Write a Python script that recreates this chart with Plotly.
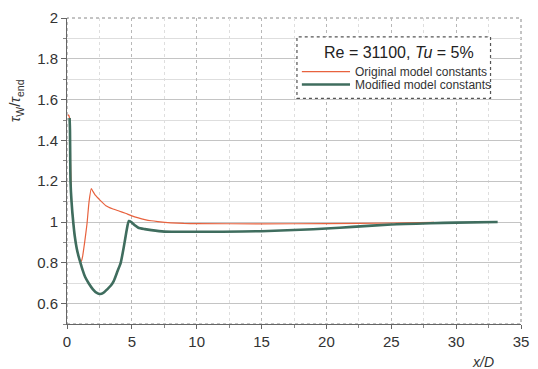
import plotly.graph_objects as go

# Original model constants (red)
orig_x = [0.08, 0.12, 0.2, 0.25, 0.27, 0.35, 0.48, 0.6, 0.75, 0.9, 1.04, 1.12, 1.2, 1.36, 1.54, 1.7, 1.87,
          2.0, 2.2, 2.5, 3.0, 3.5, 4.0, 4.5, 5.0, 5.5, 6.0, 6.5, 7.0, 8.0, 9.0, 10.0, 15.0, 20.0, 25.0, 28.3]
orig_y = [1.52, 1.525, 1.51, 1.45, 1.3, 1.1, 1.0, 0.93, 0.87, 0.83, 0.805, 0.81, 0.83, 0.9, 0.99, 1.1, 1.164,
          1.15, 1.13, 1.11, 1.08, 1.065, 1.054, 1.043, 1.03, 1.02, 1.012, 1.006, 1.002, 0.996, 0.993, 0.992,
          0.991, 0.992, 0.995, 0.998]

# Modified model constants (green)
mod_x = [0.2, 0.23, 0.25, 0.27, 0.35, 0.48, 0.6, 0.75, 0.9, 1.04, 1.2, 1.4, 1.67, 2.0, 2.3, 2.55, 2.8, 3.1,
         3.4, 3.6, 3.9, 4.14, 4.3, 4.44, 4.6, 4.77, 4.95, 5.2, 5.5, 6.0, 6.5, 7.5, 10.0, 12.0, 15.0, 18.0,
         20.0, 22.0, 25.0, 28.0, 30.0, 33.2]
mod_y = [1.51, 1.45, 1.3, 1.2, 1.1, 1.0, 0.93, 0.87, 0.83, 0.8, 0.765, 0.73, 0.7, 0.67, 0.652, 0.647, 0.652,
         0.67, 0.69, 0.71, 0.76, 0.8, 0.85, 0.9, 0.96, 1.005, 1.0, 0.985, 0.972, 0.965, 0.96, 0.953, 0.952,
         0.952, 0.955, 0.962, 0.968, 0.976, 0.988, 0.994, 0.997, 1.0]

legend_title = "Re = 31100, <i>Tu</i> = 5%"
names = ["Original model constants", "Modified model constants"]
colors = ["#e8623e", "#3f6d5e"]
widths = [1.2, 2.6]

FONT = "Arial, Liberation Sans, sans-serif"

fig = go.Figure()
fig.add_trace(go.Scatter(x=orig_x, y=orig_y, mode="lines", name=names[0],
                         line=dict(color=colors[0], width=widths[0], shape="spline", smoothing=0.4)))
fig.add_trace(go.Scatter(x=mod_x, y=mod_y, mode="lines", name=names[1],
                         line=dict(color=colors[1], width=widths[1], shape="spline", smoothing=0.6)))

W, L, T, PW, PH = 538, 67, 16, 462, 308


def px(xp):
    return (xp - L) / PW


def py(yp):
    return (T + PH - yp) / PH


shapes = [
    # plot frame (top / right dotted)
    dict(type="rect", xref="x domain", yref="y domain", x0=0, x1=1, y0=0, y1=1,
         line=dict(color="#888", width=1, dash="dot"), layer="below"),
    # legend box
    dict(type="rect", xref="paper", yref="paper",
         x0=px(301), x1=px(498), y0=py(97), y1=py(35),
         line=dict(color="#555", width=1.2, dash="dot"),
         fillcolor="white", layer="above"),
]
annotations = [
    dict(text="<i>τ</i><sub>W</sub>/<i>τ</i><sub>end</sub>", xref="paper", yref="paper",
         x=px(15), y=py(99), textangle=-90, showarrow=False,
         font=dict(size=15, color="#333"), xanchor="center", yanchor="middle"),
    dict(text="<i>x/D</i>", xref="paper", yref="paper",
         x=px(490), y=py(362), showarrow=False,
         font=dict(size=14, color="#333"), xanchor="center", yanchor="middle"),
    dict(text=legend_title, xref="paper", yref="paper", x=px(405), y=py(51),
         showarrow=False, font=dict(size=16, color="#222"), xanchor="center", yanchor="middle"),
]
for i, (nm, yy) in enumerate(zip(names, [70, 83])):
    shapes.append(dict(type="line", xref="paper", yref="paper", x0=px(306), x1=px(355),
                       y0=py(yy), y1=py(yy), line=dict(color=colors[i], width=widths[i]),
                       layer="above"))
    annotations.append(dict(text=nm, xref="paper", yref="paper", x=px(358), y=py(yy),
                            showarrow=False, font=dict(size=12, color="#333"),
                            xanchor="left", yanchor="middle"))

fig.update_layout(
    width=W, height=369,
    margin=dict(l=L, r=9, t=T, b=45),
    paper_bgcolor="white", plot_bgcolor="white",
    font=dict(family=FONT, color="#333", size=15),
    showlegend=False,
    shapes=shapes,
    annotations=annotations,
)

fig.update_xaxes(
    range=[0, 35], dtick=5, tick0=0,
    showline=True, linecolor="#666", linewidth=1,
    ticks="outside", ticklen=4, tickcolor="#666",
    showgrid=True, gridcolor="#b8b8b8", griddash="dot", gridwidth=1,
    minor=dict(dtick=2.5, showgrid=True, gridcolor="#dedede", ticks="outside", ticklen=3, tickcolor="#888"),
    zeroline=False, tickfont=dict(size=15, color="#333"),
)
fig.update_yaxes(
    range=[0.5, 2], dtick=0.2, tick0=0.6,
    showline=True, linecolor="#666", linewidth=1,
    ticks="outside", ticklen=5, tickcolor="#666",
    showgrid=True, gridcolor="#c4c4c4", gridwidth=1,
    minor=dict(dtick=0.1, showgrid=True, gridcolor="#dedede", ticks="outside", ticklen=3, tickcolor="#888"),
    zeroline=False, tickfont=dict(size=15, color="#333"),
)

fig.write_html("out.html")
